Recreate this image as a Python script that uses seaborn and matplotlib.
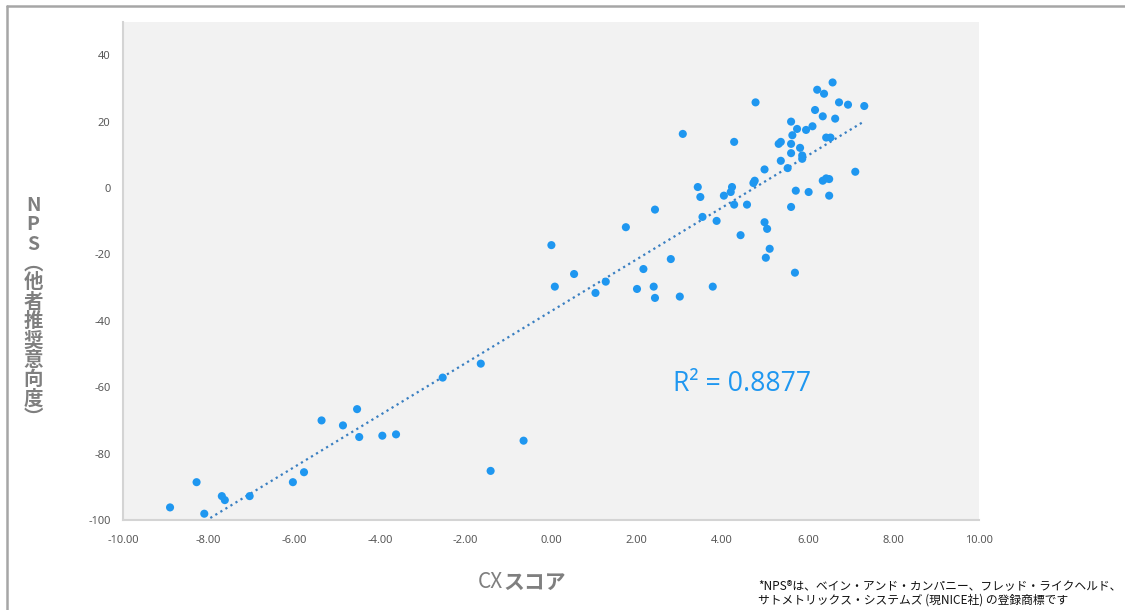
"""
CX score vs NPS scatter with linear trendline.
Output: out.png
"""

import numpy as np
import pandas as pd
import matplotlib
matplotlib.use("Agg")
import matplotlib.pyplot as plt
from matplotlib.lines import Line2D
import seaborn as sns

# ---- data ----
cx_score = [
    -8.90, -8.28, -8.10, -7.69, -7.62, -7.04, -6.03, -5.77, -5.36, -4.86,
    -4.53, -4.48, -3.94, -3.62, -2.53, -1.64, -1.41, -0.64, 0.01, 0.09,
    0.54, 1.04, 1.28, 1.75, 2.01, 2.16, 2.40, 2.43, 2.43, 2.80,
    3.01, 3.08, 3.43, 3.49, 3.54, 3.78, 3.87, 4.04, 4.20, 4.23,
    4.28, 4.28, 4.43, 4.58, 4.73, 4.76, 4.78, 4.99, 4.99, 5.05,
    5.11, 5.02, 5.32, 5.37, 5.37, 5.53, 5.61, 5.61, 5.61, 5.64,
    5.75, 5.82, 5.87, 5.87, 5.70, 5.72, 5.61, 5.96, 6.02, 6.11,
    6.17, 6.22, 6.35, 6.38, 6.43, 6.53, 6.35, 6.43, 6.50, 6.50,
    6.58, 6.64, 6.73, 6.94, 7.11, 7.32,
]
nps = [
    -96.2, -88.6, -98.1, -92.8, -94.0, -92.8, -88.6, -85.6, -70.0, -71.5,
    -66.6, -75.0, -74.6, -74.2, -57.1, -52.9, -85.2, -76.1, -17.2, -29.7,
    -25.9, -31.6, -28.2, -11.8, -30.4, -24.4, -29.7, -6.5, -33.1, -21.4,
    -32.7, 16.3, 0.3, -2.7, -8.7, -29.7, -9.9, -2.3, -1.2, 0.3,
    -5.0, 13.9, -14.2, -5.0, 1.5, 2.2, 25.8, 5.6, -10.3, -12.3,
    -18.3, -21.0, 13.3, 13.9, 8.2, 6.0, 20.0, 13.3, 10.5, 15.9,
    17.8, 12.1, 9.8, 8.8, -25.5, -0.8, -5.7, 17.5, -1.2, 18.6,
    23.5, 29.6, 21.6, 28.4, 15.2, 15.2, 2.2, 2.9, 2.7, -2.3,
    31.8, 20.9, 25.8, 25.1, 4.9, 24.7,
]

x_ticks = np.arange(-10, 10.01, 2)
y_ticks = np.arange(-100, 41, 20)
r2_label = "R² = 0.8877"
x_label_a = "CX"
x_label_b = "スコア"
y_label = "NPS︵他者推奨意向度︶"
footnote = ("*NPS®は、ベイン・アンド・カンパニー、フレッド・ライクヘルド、\n"
            "サトメトリックス・システムズ (現NICE社) の登録商標です")

POINT_COLOR = "#1f97f0"
LINE_COLOR = "#3a7fc1"
LABEL_GRAY = "#7f7f7f"
TICK_GRAY = "#595959"


def main():
    df = pd.DataFrame({"cx": cx_score, "nps": nps})

    sns.set_style("white")
    plt.rcParams["font.family"] = ["Noto Sans", "Noto Sans CJK JP", "DejaVu Sans"]

    fig = plt.figure(figsize=(11.25, 6.1), dpi=100)
    ax = fig.add_axes([0.1093, 0.1475, 0.7609, 0.8164])
    ax.set_facecolor("#f2f2f2")

    # ---- trendline + points ----
    sns.regplot(data=df, x="cx", y="nps", ax=ax, scatter=False, ci=None,
                truncate=True,
                line_kws=dict(color=LINE_COLOR, ls=":", lw=1.6))
    sns.scatterplot(data=df, x="cx", y="nps", ax=ax, color=POINT_COLOR,
                    s=34, edgecolor="none", zorder=3)

    ax.set_xlim(-10, 10)
    ax.set_ylim(-100, 50)
    ax.set_xticks(x_ticks)
    ax.set_xticklabels([f"{v:.2f}" for v in x_ticks])
    ax.set_yticks(y_ticks)
    ax.set_yticklabels([f"{v:d}" for v in y_ticks])
    ax.tick_params(axis="both", length=0, labelsize=8, labelcolor=TICK_GRAY)
    ax.tick_params(axis="x", pad=11)
    ax.tick_params(axis="y", pad=9)
    ax.set_xlabel("")
    ax.set_ylabel("")

    for side in ["top", "right"]:
        ax.spines[side].set_visible(False)
    for side in ["left", "bottom"]:
        ax.spines[side].set_color("#d4d4d4")
        ax.spines[side].set_linewidth(1.5)

    # ---- R² annotation ----
    ax.text(0.6425, 0.273, r2_label, transform=ax.transAxes, fontsize=19.2,
            color=POINT_COLOR, va="center", ha="left",
            family=["Open Sans", "DejaVu Sans"])

    # ---- axis titles ----
    fig.text(503 / 1125, 1 - 582 / 610, x_label_a, fontsize=15,
             color=LABEL_GRAY, ha="right", va="center",
             family=["Noto Sans CJK JP", "DejaVu Sans"])
    fig.text(503 / 1125, 1 - 582 / 610, x_label_b, fontsize=15,
             color=LABEL_GRAY, ha="left", va="center", weight="bold",
             family=["Noto Sans CJK JP", "DejaVu Sans"])
    fig.text(33 / 1125, 1 - 312 / 610, "\n".join(y_label), fontsize=14,
             color=LABEL_GRAY, ha="center", va="center", weight="bold",
             linespacing=1.02, family=["Noto Sans CJK JP", "DejaVu Sans"])

    fig.text(758 / 1125, 1 - 593 / 610, footnote, fontsize=8.5,
             color="#111111", ha="left", va="center", linespacing=1.1,
             family=["Noto Sans CJK JP", "DejaVu Sans"])

    # ---- outer frame (left and top edges) ----
    fig.add_artist(Line2D([7 / 1125, 7 / 1125], [0, 1 - 6 / 610],
                          transform=fig.transFigure, color="#a6a6a6", lw=1.8))
    fig.add_artist(Line2D([7 / 1125, 1], [1 - 6 / 610, 1 - 6 / 610],
                          transform=fig.transFigure, color="#a6a6a6", lw=1.8))

    fig.savefig("out.png", dpi=100)
    plt.close(fig)


if __name__ == "__main__":
    main()
